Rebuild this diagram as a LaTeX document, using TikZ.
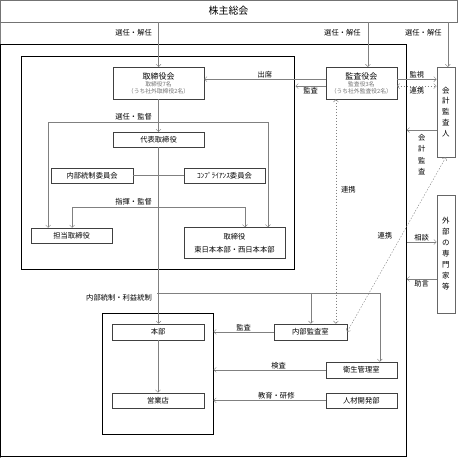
\documentclass[tikz,border=0pt]{standalone}
\usepackage{fontspec}
\setmainfont{Noto Sans CJK JP}
\usepackage{tikz}
\usetikzlibrary{arrows.meta,positioning}
\tikzstyle{boxstyle}=[draw=black!75,fill=white,inner sep=0pt,align=center]
\tikzstyle{framestyle}=[draw=black,line width=0.9pt,inner sep=0pt]
\tikzstyle{tallbox}=[draw=black!60,inner sep=0pt,align=center,minimum width=18pt,font=\fontsize{7.5}{11}\selectfont]
\tikzstyle{linkline}=[<->,dash pattern=on 1.5pt off 1.5pt]
\newcommand{\subtxt}{\fontsize{5.8}{7}\selectfont\color{black!55}}

\begin{document}
\begin{tikzpicture}[x=1pt,y=-1pt,>={Straight Barb[length=2.5pt,width=5pt]},font=\fontsize{7.3}{9}\selectfont]
	\tikzstyle{every path}=[draw=black!50]
	\tikzstyle{lbl}=[inner sep=1pt,text=black]
	\useasboundingbox (0,0) rectangle (458,458);

	% frames
	\node[draw=black!55,minimum width=457pt,minimum height=22pt,inner sep=0pt,font=\fontsize{10}{12}\selectfont] (sh) at (228.5,11) {株主総会};
	\node[framestyle,minimum width=406pt,minimum height=413pt] (company) at (203.5,250.5) {};
	\node[framestyle,minimum width=274pt,minimum height=213pt] (board) at (158,162.5) {};
	\node[framestyle,minimum width=111pt,minimum height=121pt] (branch) at (157.5,374.5) {};

	% boxes
	\node[boxstyle,minimum width=91pt,minimum height=32pt] (tb) at (158.5,83) {{\fontsize{8}{9}\selectfont 取締役会}\\[-2pt]{\subtxt 取締役7名}\\[-2pt]{\subtxt （うち社外取締役2名）}};
	\node[boxstyle,minimum width=71pt,minimum height=32pt] (ka) at (361.5,83) {{\fontsize{8}{9}\selectfont 監査役会}\\[-2pt]{\subtxt 監査役3名}\\[-2pt]{\subtxt （うち社外監査役2名）}};
	\node[boxstyle,minimum width=91pt,minimum height=15pt] (dh) at (158.5,139.5) {代表取締役};
	\node[boxstyle,minimum width=82pt,minimum height=15pt] (ni) at (92,175.5) {内部統制委員会};
	\node[boxstyle,minimum width=81pt,minimum height=15pt] (cp) at (224.5,175.5) {ｺﾝﾌﾟﾗｲｱﾝｽ委員会};
	\node[boxstyle,minimum width=81pt,minimum height=15pt] (tt) at (71.5,235.5) {担当取締役};
	\node[boxstyle,minimum width=101pt,minimum height=31pt] (ts) at (234.5,243) {取締役\\[4pt]東日本本部・西日本本部};
	\node[tallbox,minimum height=90pt] (kk) at (446,112) {会\\計\\監\\査\\人};
	\node[tallbox,minimum height=118pt] (gb) at (446,254) {外\\部\\の\\専\\門\\家\\等};
	\node[boxstyle,minimum width=92pt,minimum height=16pt] (hb) at (158,332) {本部};
	\node[boxstyle,minimum width=92pt,minimum height=15pt] (eg) at (158,400.5) {営業店};
	\node[boxstyle,minimum width=73pt,minimum height=16pt] (nk) at (310.5,332) {内部監査室};
	\node[boxstyle,minimum width=71pt,minimum height=16pt] (es) at (361.5,370) {衛生管理室};
	\node[boxstyle,minimum width=71pt,minimum height=15pt] (jz) at (361.5,400.5) {人材開発部};

	% shareholders
	\coordinate (s2) at (368,22);
	\coordinate (s3) at (448,22);
	\draw[->] (tb.north |- sh.south) -- (tb.north);
	\draw[->] (s2) -- (s2 |- ka.north);
	\draw[->] (s3) -- (s3 |- kk.north);
	\node[lbl,anchor=east] at (153,33) {選任・解任};
	\node[lbl,anchor=east] at (362,33) {選任・解任};
	\node[lbl,anchor=east] at (443,33) {選任・解任};

	% board
	\coordinate (selL) at (48,122);
	\coordinate (selR) at (268,122);
	\draw[->] (tb.south) -- (dh.north);
	\draw (selL) -- (selR);
	\draw[->] (selL) -- (selL |- tt.north);
	\draw[->] (selR) -- (selR |- ts.north);
	\node[lbl,anchor=south east] at (153,121) {選任・監督};
	\draw (ni.east) -- (cp.west);
	\coordinate (cmdL) at (72,207);
	\coordinate (cmdR) at (245,207);
	\draw (cmdL) -- (cmdR);
	\draw[->] (cmdL) -- (cmdL |- tt.north);
	\draw[->] (cmdR) -- (cmdR |- ts.north);
	\node[lbl,anchor=south east] at (153,206) {指揮・監督};

	% auditors
	\draw[->] ([yshift=4pt]ka.west) -- node[lbl,above]{出席} ([yshift=4pt]ka.west -| tb.east);
	\draw[->] ([yshift=-3pt]ka.west) -- node[lbl,below]{監査} ([yshift=-3pt]ka.west -| board.east);
	\draw[->] ([yshift=4pt]ka.east) -- node[lbl,above]{監視} ([yshift=4pt]ka.east -| kk.west);
	\draw[linkline] ([yshift=-3pt]ka.east) -- node[lbl,below]{連携} ([yshift=-3pt]ka.east -| kk.west);
	\coordinate (d1) at (336,0);
	\draw[linkline] (d1 |- ka.south) -- (d1 |- nk.north);
	\node[lbl,anchor=west] at (340,190) {連携};
	\draw[->] (kk.west |- 0,130) -- (company.east |- 0,130);
	\node[lbl,align=center,anchor=north,font=\fontsize{7.3}{11.5}\selectfont] at (422,133) {会\\計\\監\\査};
	\draw[linkline] (kk.south) -- (nk.east);
	\node[lbl] at (385,236) {連携};

	% outside experts
	\draw[->] (company.east |- 0,242) -- node[lbl,above]{相談} (gb.west |- 0,242);
	\draw[->] (gb.west |- 0,279) -- node[lbl,below]{助言} (company.east |- 0,279);

	% internal control
	\coordinate (ctlL) at (157,293);
	\coordinate (ctlM) at (311,293);
	\coordinate (ctlR) at (380,293);
	\draw[->] (dh.south) -- (dh.south |- hb.north);
	\draw (ctlL) -- (ctlR);
	\draw[->] (ctlM) -- (ctlM |- nk.north);
	\draw[->] (ctlR) -- (ctlR |- es.north);
	\node[lbl,anchor=east] at (153,298) {内部統制・利益統制};
	\draw[->] (hb) -- (eg);
	\draw[->] (nk.west) -- node[lbl,above]{監査} (nk.west -| branch.east);
	\draw[->] (es.west) -- node[lbl,above,pos=0.42]{検査} (es.west -| branch.east);
	\draw[->] (jz.west) -- node[lbl,above,pos=0.44]{教育・研修} (jz.west -| branch.east);
\end{tikzpicture}
\end{document}
